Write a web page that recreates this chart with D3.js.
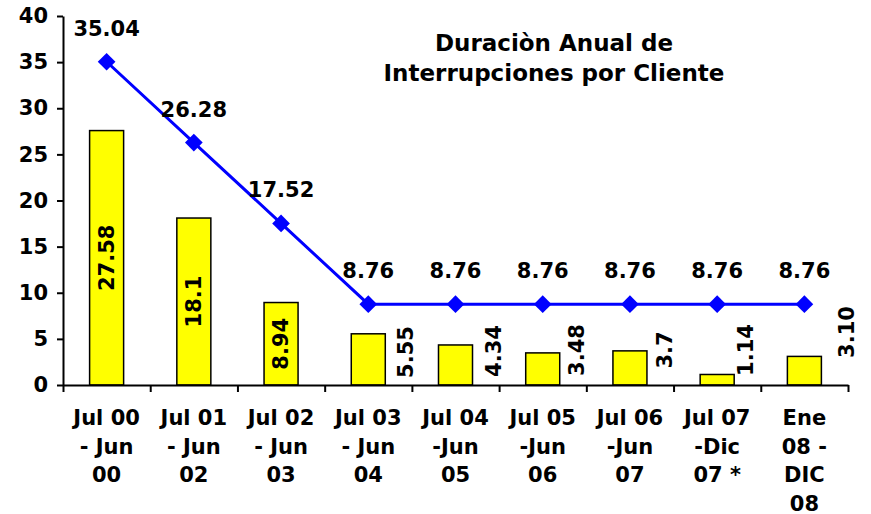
<!DOCTYPE html>
<html>
<head>
<meta charset="utf-8">
<script src="https://cdn.jsdelivr.net/npm/d3@7"></script>
<style>
  body { margin: 0; background: #fff; }
  text { font-family: "DejaVu Sans", Verdana, sans-serif; font-weight: bold; fill: #000; }
</style>
</head>
<body>
<script>
// chart data
var categories = [
  ["Jul 00", "- Jun", "00"],
  ["Jul 01", "- Jun", "02"],
  ["Jul 02", "- Jun", "03"],
  ["Jul 03", "- Jun", "04"],
  ["Jul 04", "-Jun", "05"],
  ["Jul 05", "-Jun", "06"],
  ["Jul 06", "-Jun", "07"],
  ["Jul 07", "-Dic", "07 *"],
  ["Ene", "08 -", "DIC", "08"]
];
var barValues = [27.58, 18.1, 8.94, 5.55, 4.34, 3.48, 3.7, 1.14, 3.10];
var barLabels = ["27.58", "18.1", "8.94", "5.55", "4.34", "3.48", "3.7", "1.14", "3.10"];
var lineValues = [35.04, 26.28, 17.52, 8.76, 8.76, 8.76, 8.76, 8.76, 8.76];
var lineLabels = ["35.04", "26.28", "17.52", "8.76", "8.76", "8.76", "8.76", "8.76", "8.76"];
var yTicks = [0, 5, 10, 15, 20, 25, 30, 35, 40];
var titleLines = ["Duraciòn Anual de", "Interrupciones por Cliente"];

// layout
var width = 871, height = 514;
var plotLeft = 63, plotRight = 848, plotTop = 16, plotBottom = 385;

var svg = d3.select("body").append("svg")
  .attr("width", width)
  .attr("height", height);

var x = d3.scaleBand().domain(d3.range(categories.length)).range([plotLeft, plotRight]).paddingInner(0.61).paddingOuter(0.305);
var y = d3.scaleLinear().domain([0, 40]).range([plotBottom, plotTop]);
var cx = function(i) { return x(i) + x.bandwidth() / 2; };

// bars
svg.selectAll(".bar")
  .data(barValues)
  .enter().append("rect")
  .attr("class", "bar")
  .attr("x", function(d, i) { return x(i); })
  .attr("y", function(d) { return y(d); })
  .attr("width", x.bandwidth())
  .attr("height", function(d) { return y(0) - y(d); })
  .style("fill", "#ffff00")
  .style("stroke", "#000")
  .style("stroke-width", 1.5);

// y axis
var yAxis = svg.append("g")
  .attr("transform", "translate(" + plotLeft + ",0)")
  .call(d3.axisLeft(y).tickValues(yTicks).tickSize(6).tickPadding(9).tickSizeOuter(0));
yAxis.select(".domain").style("stroke", "#000").style("stroke-width", 2);
yAxis.selectAll(".tick line").style("stroke", "#000").style("stroke-width", 2);
yAxis.selectAll("text").style("font-size", "21px").style("font-family", "DejaVu Sans").style("font-weight", "bold");

// x axis with ticks between categories
var xEdge = d3.scaleLinear().domain([0, categories.length]).range([plotLeft, plotRight]);
var xAxis = svg.append("g")
  .attr("transform", "translate(0," + plotBottom + ")")
  .call(d3.axisBottom(xEdge).ticks(categories.length).tickSize(7).tickFormat("").tickSizeOuter(0));
xAxis.select(".domain").style("stroke", "#000").style("stroke-width", 2);
xAxis.selectAll(".tick line").style("stroke", "#000").style("stroke-width", 2);

// category labels
var catG = svg.selectAll(".cat")
  .data(categories)
  .enter().append("text")
  .attr("class", "cat")
  .attr("text-anchor", "middle")
  .style("font-size", "21px");
catG.selectAll("tspan")
  .data(function(d, i) { return d.map(function(s) { return {s: s, i: i}; }); })
  .enter().append("tspan")
  .attr("x", function(d) { return cx(d.i); })
  .attr("y", function(d, j) { return 425 + j * 28.5; })
  .text(function(d) { return d.s; });

// line
var line = d3.line()
  .x(function(d, i) { return cx(i); })
  .y(function(d) { return y(d); });
svg.append("path")
  .datum(lineValues)
  .attr("d", line)
  .style("fill", "none")
  .style("stroke", "#0000ff")
  .style("stroke-width", 3);

svg.selectAll(".marker")
  .data(lineValues)
  .enter().append("path")
  .attr("class", "marker")
  .attr("d", d3.symbol().type(d3.symbolDiamond2).size(200))
  .attr("transform", function(d, i) { return "translate(" + cx(i) + "," + y(d) + ")"; })
  .style("fill", "#0000ff");

svg.selectAll(".lineLabel")
  .data(lineValues)
  .enter().append("text")
  .attr("class", "lineLabel")
  .attr("text-anchor", "middle")
  .attr("x", function(d, i) { return cx(i); })
  .attr("y", function(d) { return y(d) - 26; })
  .style("font-size", "21px")
  .text(function(d, i) { return lineLabels[i]; });

// bar value labels (inside for first three, beside the rest)
var labelDx = [0, 0, 0, 38, 38, 34, 35, 29, 43];
var labelY = [null, null, null, 352, 351, 350, 350, 350, 332];
svg.selectAll(".barLabel")
  .data(barValues)
  .enter().append("text")
  .attr("class", "barLabel")
  .attr("text-anchor", "middle")
  .attr("dominant-baseline", "central")
  .attr("transform", function(d, i) {
    var ly = labelY[i] === null ? (y(d) + y(0)) / 2 : labelY[i];
    return "translate(" + (cx(i) + labelDx[i]) + "," + ly + ") rotate(-90)";
  })
  .style("font-size", "21px")
  .text(function(d, i) { return barLabels[i]; });

// title
svg.append("text")
  .attr("text-anchor", "middle")
  .style("font-size", "23px")
  .selectAll("tspan")
  .data(titleLines)
  .enter().append("tspan")
  .attr("x", 554)
  .attr("y", function(d, i) { return 51 + i * 30; })
  .text(function(d) { return d; });
</script>
</body>
</html>
